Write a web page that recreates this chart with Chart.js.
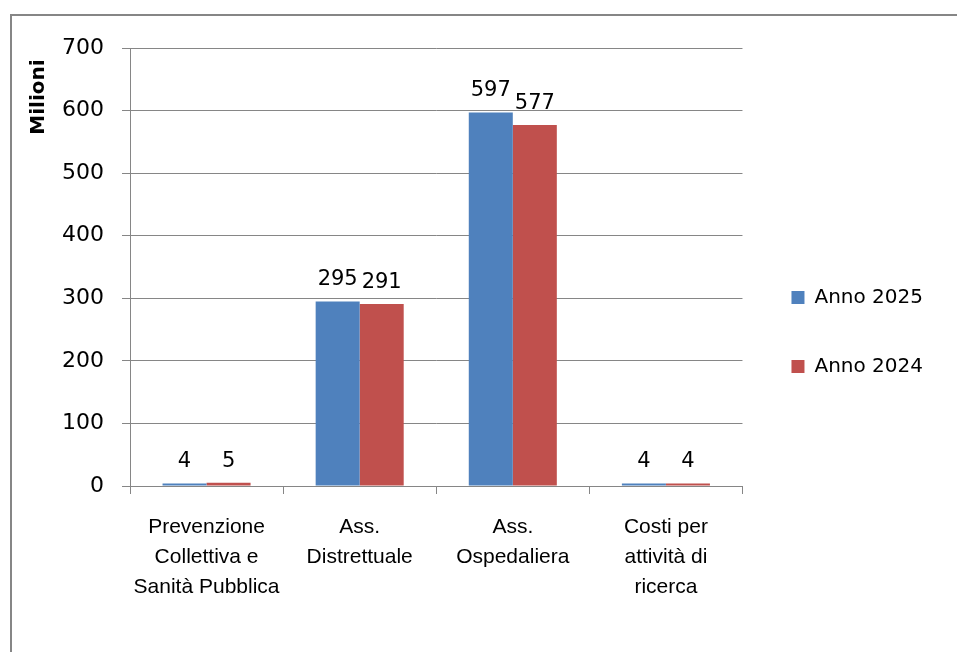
<!DOCTYPE html>
<html>
<head>
<meta charset="utf-8">
<script src="https://cdn.jsdelivr.net/npm/chart.js@4"></script>
<style>
  html, body { margin: 0; padding: 0; background: #fff; }
  #wrap { position: relative; width: 957px; height: 652px; }
</style>
</head>
<body>
<div id="wrap"><canvas id="chart"></canvas></div>
<script>
const categories = [
    ['Prevenzione', 'Collettiva e', 'Sanità Pubblica'],
    ['Ass.', 'Distrettuale'],
    ['Ass.', 'Ospedaliera'],
    ['Costi per', 'attività di', 'ricerca']
];
const anno2025 = [4, 295, 597, 4];
const anno2024 = [5, 291, 577, 4];
const seriesNames = ['Anno 2025', 'Anno 2024'];
const yTitle = 'Milioni';

const grey = '#868686';

// white page + the grey frame line on the left and top
const framePlugin = {
    id: 'frame',
    beforeDraw(chart) {
        const ctx = chart.ctx;
        ctx.save();
        ctx.fillStyle = '#ffffff';
        ctx.fillRect(0, 0, chart.width, chart.height);
        ctx.fillStyle = grey;
        ctx.fillRect(10, 14, 2, chart.height - 14);
        ctx.fillRect(10, 14, chart.width - 10, 2);
        ctx.restore();
    }
};

// value labels over the bars + rotated axis title
const labelsPlugin = {
    id: 'valueLabels',
    afterDatasetsDraw(chart) {
        const ctx = chart.ctx;
        ctx.save();
        ctx.fillStyle = '#000';
        ctx.font = '21px "DejaVu Sans"';
        ctx.textAlign = 'center';
        ctx.textBaseline = 'alphabetic';
        chart.data.datasets.forEach((ds, i) => {
            const meta = chart.getDatasetMeta(i);
            meta.data.forEach((bar, j) => {
                ctx.fillText(String(ds.data[j]), bar.x, bar.y - 16);
            });
        });

        ctx.translate(39, 97);
        ctx.rotate(-Math.PI / 2);
        ctx.font = 'bold 20px "DejaVu Sans"';
        ctx.textBaseline = 'middle';
        ctx.fillText(yTitle, 0, 0);
        ctx.restore();
    }
};

new Chart(document.getElementById('chart'), {
    type: 'bar',
    data: {
        labels: categories,
        datasets: [{
            label: seriesNames[0],
            data: anno2025,
            backgroundColor: '#4F81BD'
        }, {
            label: seriesNames[1],
            data: anno2024,
            backgroundColor: '#C0504D'
        }]
    },
    options: {
        responsive: true,
        maintainAspectRatio: false,
        animation: false,
        layout: {
            padding: { left: 12, top: 48, right: 24, bottom: 36 }
        },
        datasets: {
            bar: {
                categoryPercentage: 0.575,
                barPercentage: 1
            }
        },
        scales: {
            x: {
                afterFit: (scale) => { scale.height = 130; },
                grid: {
                    drawOnChartArea: false,
                    tickLength: 8,
                    color: grey
                },
                border: { color: grey },
                ticks: {
                    color: '#000',
                    padding: 18,
                    maxRotation: 0,
                    autoSkip: false,
                    font: { family: '"Liberation Sans"', size: 21, lineHeight: 1.43 }
                }
            },
            y: {
                min: 0,
                max: 700,
                afterFit: (scale) => { scale.width = 118; },
                grid: {
                    tickLength: 8,
                    color: grey
                },
                border: { color: grey },
                ticks: {
                    stepSize: 100,
                    color: '#000',
                    padding: 18,
                    font: { family: '"DejaVu Sans"', size: 22 }
                }
            }
        },
        plugins: {
            legend: {
                position: 'right',
                labels: {
                    boxWidth: 13,
                    boxHeight: 13,
                    padding: 49,
                    color: '#000',
                    font: { family: '"DejaVu Sans"', size: 20 }
                }
            },
            tooltip: { enabled: false }
        }
    },
    plugins: [framePlugin, labelsPlugin]
});
</script>
</body>
</html>
